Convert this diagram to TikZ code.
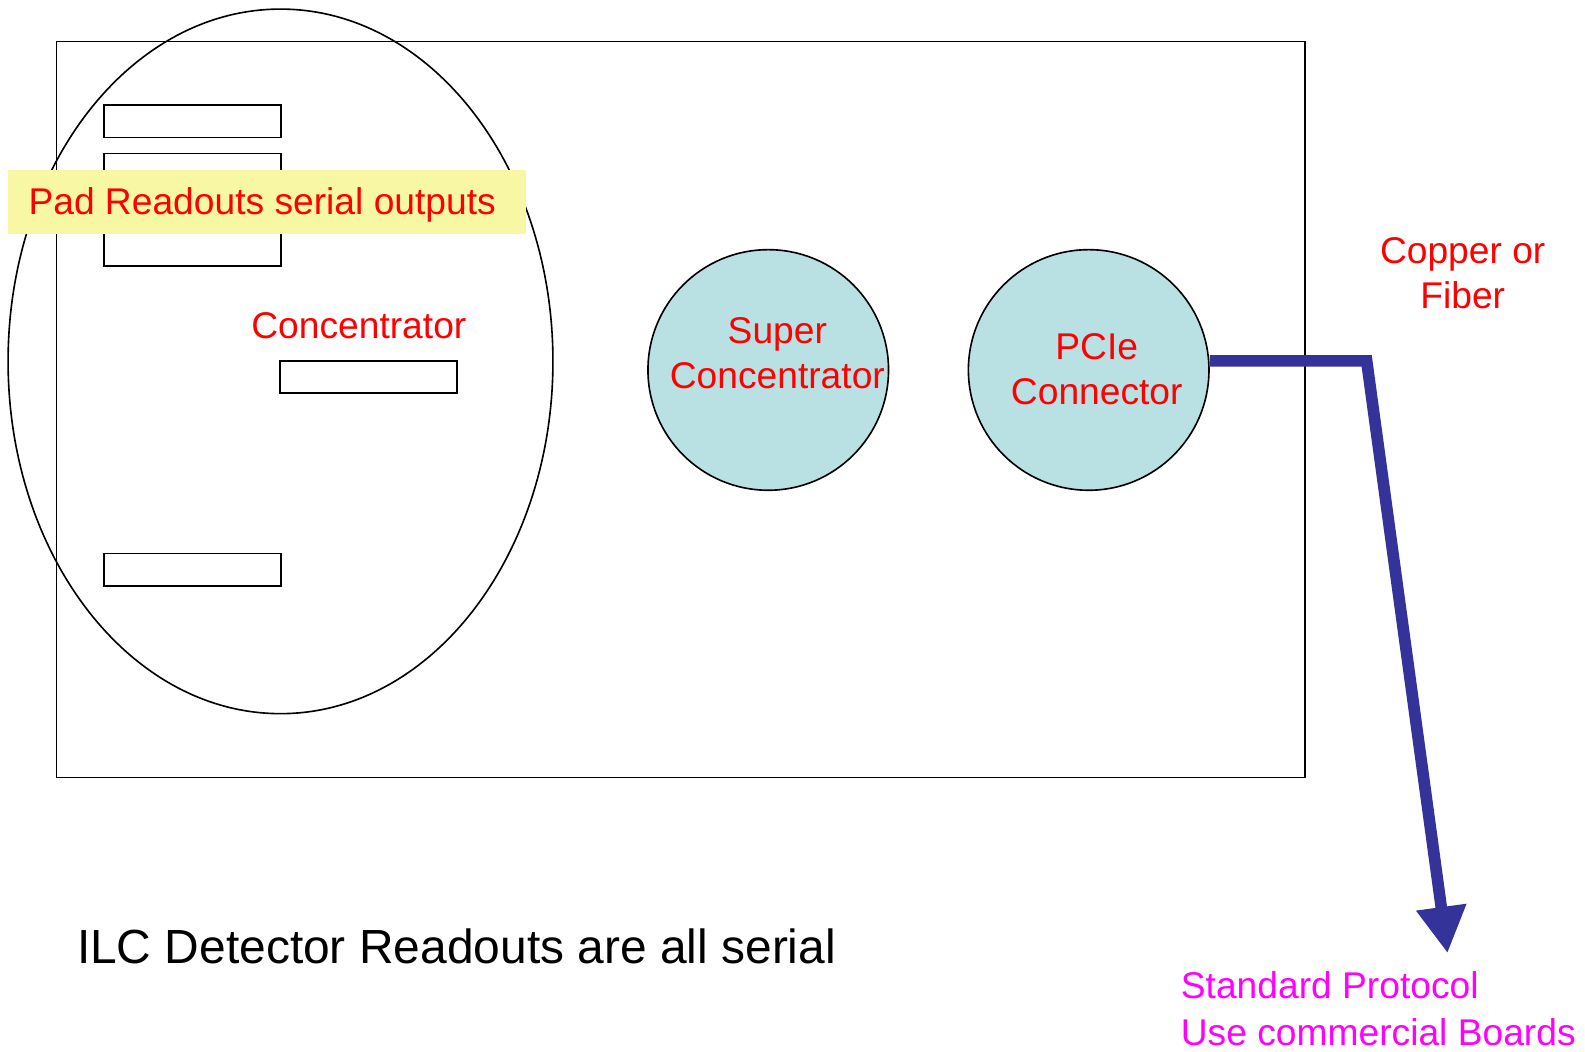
\documentclass[tikz,border=0pt]{standalone}
\usepackage{fontspec}
\setmainfont{Liberation Sans}
\usetikzlibrary{arrows.meta}
\definecolor{circfill}{RGB}{185,224,227}
\definecolor{padyellow}{RGB}{248,248,164}
\definecolor{linkblue}{RGB}{51,51,153}
\definecolor{labelmag}{RGB}{255,0,255}
\begin{document}
\begin{tikzpicture}[x=1pt,y=-1pt,
  thinline/.style={draw=black,line width=1.6pt},
  smallbox/.style={thinline,fill=white,minimum width=175pt,minimum height=32pt,inner sep=0pt},
  bigcirc/.style={circle,draw=black,line width=1.6pt,fill=circfill,minimum size=238pt,inner sep=0pt},
  redlbl/.style={text=red,font=\fontsize{36.8}{44.5}\selectfont,align=center,inner sep=0pt},
  maglbl/.style={text=labelmag,font=\fontsize{36.8}{46}\selectfont,align=flush left,inner sep=0pt},
  link/.style={draw=linkblue,line width=11.5pt,-{Triangle[width=47pt,length=46pt]}}
]
\useasboundingbox (0,0) rectangle (1568,1040);
\fill[white] (0,0) rectangle (1568,1040);
% main board
\node[thinline,minimum width=1235pt,minimum height=728pt,inner sep=0pt] (board) at (673.5,405) {};
% concentrator ellipse
\draw[thinline] (277.5,357.5) ellipse [x radius=269.5pt, y radius=348.5pt];
\coordinate (ell) at (277.5,357.5);
% pad readout boxes
\node[smallbox] (p1) at (190.5,120) {};
\node[smallbox] (p2) at (190.5,168) {};
\node[smallbox] (p3) at (190.5,247) {};
\node[smallbox] (p4) at (190.5,563.5) {};
\node[smallbox] (conc) at (364.5,373) {};
% yellow label
\node[fill=padyellow,anchor=west,minimum height=63pt,inner ysep=0pt,inner xsep=20pt,
      text width=472pt,align=flush left,text height=33pt,text depth=8pt,
      text=red,font=\fontsize{36.8}{44}\selectfont] (padlbl) at (8,199.5) {Pad Readouts serial outputs};
\node[redlbl] (conclbl) at (355,322) {Concentrator};
% circles
\node[bigcirc] (super) at (760,366) {};
\node[redlbl] (superlbl) at (769,349) {Super\\Concentrator};
\node[bigcirc] (pcie) at (1077,366) {};
\node[redlbl] (pcielbl) at (1085,365) {PCIe\\Connector};
% link
\coordinate (bend) at (1352,357);
\coordinate (tip) at (1432,943);
\draw[link] (bend -| pcie.east) -- (bend) -- (tip);
\node[redlbl] (cf) at (1447,270) {Copper or\\Fiber};
\node[maglbl,anchor=west] (std) at (1168,998) {Standard Protocol\\Use commercial Boards};
\node[inner sep=0pt,anchor=west,font=\fontsize{47.4}{56}\selectfont] (ilc) at (76,936) {ILC Detector Readouts are all serial};
\end{tikzpicture}
\end{document}
